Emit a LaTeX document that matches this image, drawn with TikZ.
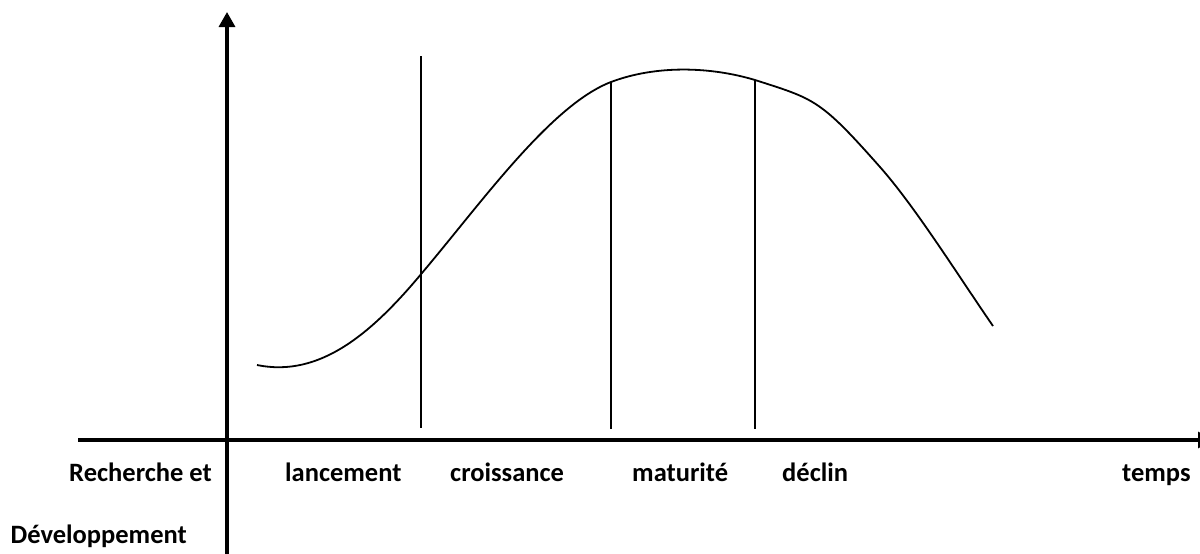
\documentclass[tikz,border=0pt]{standalone}
\usepackage{fontspec}
\setmainfont{Carlito}
\usetikzlibrary{arrows.meta}
\begin{document}
\begin{tikzpicture}[x=1pt,y=-1pt,
  axis/.style={line width=3.3pt,-{Triangle[length=15pt,width=16pt]}},
  phase/.style={line width=1.8pt},
  curve/.style={line width=1.8pt},
  lab/.style={font=\fontsize{26.5}{32}\selectfont\bfseries,inner sep=0pt,anchor=base west}]
\useasboundingbox (0,0) rectangle (1200,554);
\coordinate (xa) at (78,440);
\coordinate (xb) at (1213,440);
\coordinate (ya) at (227,554);
\coordinate (yb) at (227,12);
\draw[axis] (xa) -- (xb);
\draw[axis] (ya) -- (yb);
\coordinate (l1t) at (421,56);  \coordinate (l1b) at (421,428);
\coordinate (l2t) at (611,82);  \coordinate (l2b) at (611,429);
\coordinate (l3t) at (755,80);  \coordinate (l3b) at (755,429);
\draw[phase] (l1t) -- (l1b);
\draw[phase] (l2t) -- (l2b);
\draw[phase] (l3t) -- (l3b);
\draw[curve] (257,365) .. controls (320,378) and (372,333) .. (422,273)
  .. controls (482,202) and (551,105) .. (611,82)
  .. controls (656,65) and (710,66.5) .. (755,80)
  .. controls (815,99.2) and (820,99.2) .. (880,167)
  .. controls (915,206.5) and (958,275.25) .. (993,326);
\node[lab,anchor=base east] (rd) at (212,481) {Recherche et};
\node[lab,anchor=base east] (dv) at (187,543) {Développement};
\node[lab] (lc) at (285,481) {lancement};
\node[lab] (cr) at (450,481) {croissance};
\node[lab] (mt) at (632,481) {maturité};
\node[lab] (dc) at (782,481) {déclin};
\node[lab] (tp) at (1122,481) {temps};
\end{tikzpicture}
\end{document}
